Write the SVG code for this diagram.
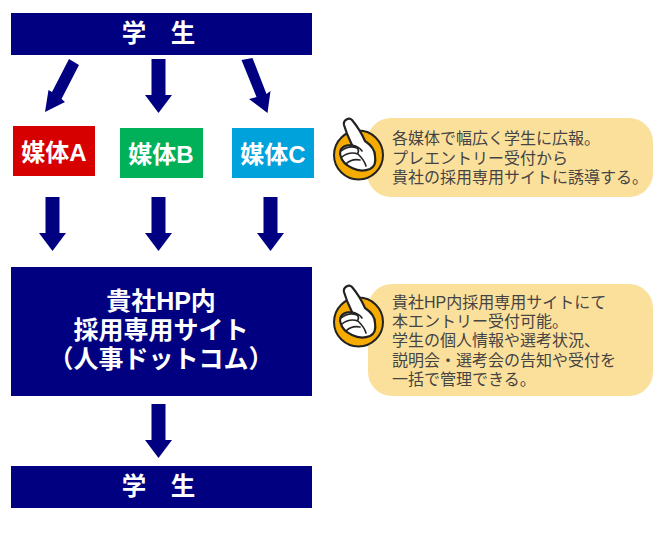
<svg xmlns="http://www.w3.org/2000/svg" width="660" height="534" viewBox="0 0 660 534">
<style>
text{font-family:"Liberation Sans","Noto Sans CJK JP",sans-serif}
.w{fill:#fff;font-weight:700;text-anchor:middle}
.m{font-size:24px;fill:#fff;font-weight:700;text-anchor:middle}
.n{fill:#000080}
.c{fill:#fbe09c}
.t{fill:#444;font-size:16px}
.hand{fill:#fff;stroke:#222;stroke-width:2.200;stroke-linejoin:round}
.hl{fill:none;stroke:#222;stroke-width:1.600;stroke-linecap:round}
</style>
<defs>
<polygon id="down" points="-7,0 7,0 7,36 13.500,36 0,54 -13.500,36 -7,36"/>
<g id="pointer">
<circle cx="26.500" cy="38" r="24.500" fill="#f5ab00" stroke="#222" stroke-width="2"/>
<path class="hand" d="M12 8C11 3 17 0 20 3C25 9 30 17 33 24C39 28 43 33 43 39C44 45 42 50 38 52C33 54 26 54 20 51C14 48 10 45 9 40C7 36 8 31 13 29C15 28 17 28 20 28C17 22 14 15 12 8Z"/>
<path class="hl" d="M9 34C14 30 20 29 25 31C27 33 27 35 25 37M10 40C15 36 20 35 26 37M14 47C18 43 23 42 28 43M26 37C29 40 33 45 34 49M20 28C24 29 28 31 30 34"/>
</g>
</defs>
<g id="connectors" class="n">
<polygon points="69,59 79,65 61.500,99 65,102 45,112 48.500,90 52,92"/>
<use href="#down" x="158.500" y="59"/>
<polygon points="241.500,60 252.500,58 266.500,94 270.500,91 267.500,113 249,99 256.500,97"/>
<use href="#down" x="52.500" y="197"/>
<use href="#down" x="158.500" y="197"/>
<use href="#down" x="270.500" y="197"/>
<use href="#down" x="158.500" y="404"/>
</g>
<g id="student-top"><rect class="n" x="11" y="13" width="301" height="42"/><text class="w" x="158.500" y="42" font-size="24.500">学　生</text></g>
<g id="media-a"><rect x="13" y="126" width="82" height="50" fill="#d60000"/><text class="m" x="54" y="161">媒体A</text></g>
<g id="media-b"><rect x="120" y="128" width="83" height="50" fill="#00b15a"/><text class="m" x="161" y="163">媒体B</text></g>
<g id="media-c"><rect x="232" y="128" width="82" height="50" fill="#00a2dc"/><text class="m" x="273" y="163">媒体C</text></g>
<g id="site"><rect class="n" x="11" y="267" width="301" height="129"/>
<text class="w" x="161" y="310" font-size="25">貴社HP内</text>
<text class="w" x="161" y="339" font-size="25">採用専用サイト</text>
<text class="w" x="161" y="368" font-size="25">（人事ドットコム）</text></g>
<g id="student-bottom"><rect class="n" x="11" y="466" width="301" height="42"/><text class="w" x="158.500" y="495" font-size="24.500">学　生</text></g>
<g id="note-1"><rect class="c" x="367" y="118" width="286" height="79" rx="24"/>
<use href="#pointer" x="332" y="117"/>
<text class="t" x="392" y="144">各媒体で幅広く学生に広報。</text>
<text class="t" x="392" y="164">プレエントリー受付から</text>
<text class="t" x="392" y="183">貴社の採用専用サイトに誘導する。</text></g>
<g id="note-2"><rect class="c" x="368" y="284" width="285" height="112" rx="24"/>
<use href="#pointer" x="332" y="284"/>
<text class="t" x="392" y="308">貴社HP内採用専用サイトにて</text>
<text class="t" x="392" y="327">本エントリー受付可能。</text>
<text class="t" x="392" y="346">学生の個人情報や選考状況、</text>
<text class="t" x="392" y="366">説明会・選考会の告知や受付を</text>
<text class="t" x="392" y="385">一括で管理できる。</text></g>
</svg>
